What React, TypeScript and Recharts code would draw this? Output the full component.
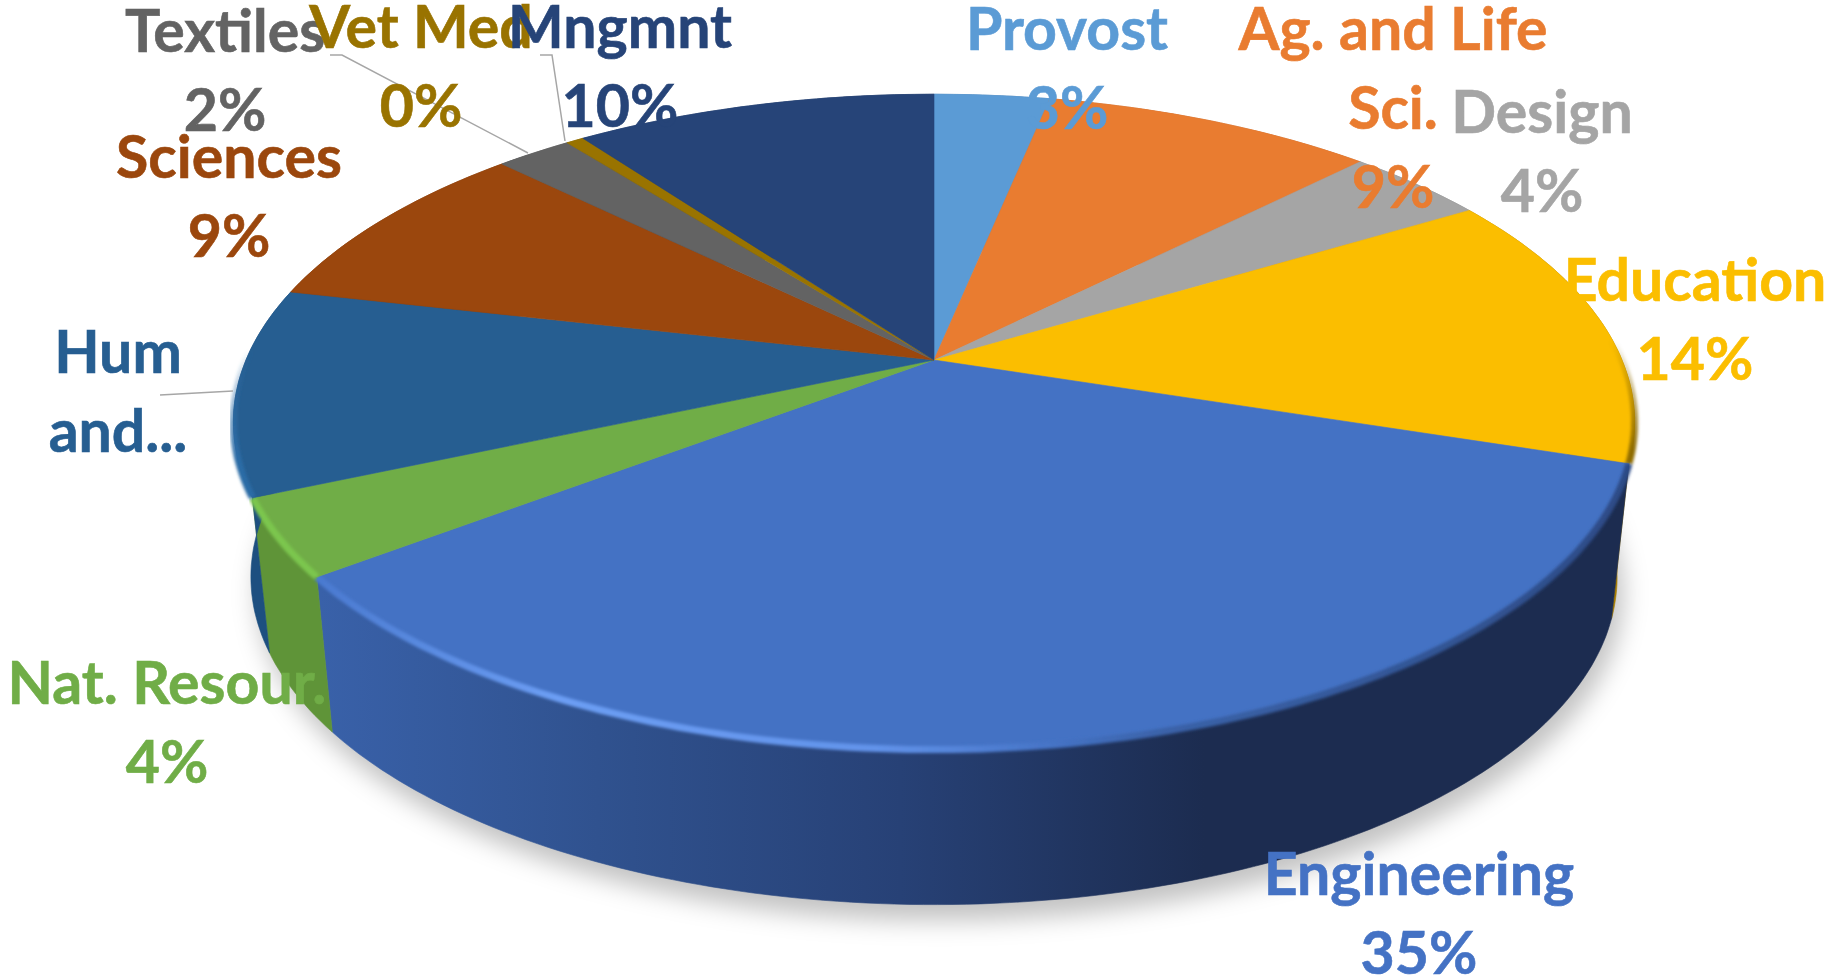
import React from 'react'
import { PieChart, Pie } from 'recharts'

const categories = ['Provost', 'Ag. and Life\nSci.', 'Design', 'Education', 'Engineering', 'Nat. Resour.', 'Hum\nand...', 'Sciences', 'Textiles', 'Vet Med', 'Mngmnt']
const values = [3.2, 9.2, 3.9, 13.7, 34.6, 3.8, 10.2, 8.8, 2.1, 0.49, 10.01]
const colors = ['#5B9BD5', '#E97C30', '#A5A5A5', '#FBBE00', '#4472C4', '#70AD47', '#265E91', '#9B470D', '#636363', '#997300', '#264478']
const wallColors = ['#4a80b0', '#c0662a', '#888888', '#a67c00', 'url(#engWall)', '#5f9438', '#1d4f80', '#7e3a0b', '#525252', '#7e5f00', '#1f3863']
const rimColors = ['none', 'none', 'none', 'url(#eduRim)', 'url(#engRim)', '#7cc64e', 'url(#humRim)', 'none', 'none', 'none', 'none']

// label centres and baselines, in page pixels
const labelX = [1067, 1393, 1542, 1695, 1419, 167, 118, 229, 225, 421, 620]
const labelY = [50, 50, 133, 301, 895, 704, 373, 178, 52, 48, 48]
const LINE_GAP = 79

const leaderLines: Record<string, string> = {
  Textiles: '330,55 342,55 528,153',
  'Vet Med': '540,55 552,55 565,141',
  'Hum\nand...': '160,395 233,391',
}

const CX = 934
const CY = 360
const R = 688
const S = 316
const K = 0.189
const BASE_R = 0.975
const BASE_CY = 515

const project = (angle: number, base = false) => {
  const a = (angle * Math.PI) / 180
  const u = Math.cos(a)
  const v = Math.sin(a)
  const d = 1 + K * v
  const x = (R * u) / d
  const y = (-S * v) / d
  return base ? [CX + x * BASE_R, BASE_CY + y] : [CX + x, CY + y]
}

const rimPoints = (start: number, end: number, base = false) => {
  const steps = Math.max(2, Math.ceil(Math.abs(end - start)))
  const pts: string[] = []
  for (let i = 0; i <= steps; i++) {
    const [x, y] = project(start + ((end - start) * i) / steps, base)
    pts.push(`${x.toFixed(1)} ${y.toFixed(1)}`)
  }
  return pts
}

const TopSlice = (props: any) => {
  const { startAngle, endAngle, fill } = props
  const rim = props.payload?.rim ?? props.rim
  const arc = rimPoints(startAngle, endAngle)
  return (
    <g>
      <path d={`M${CX} ${CY}L${arc.join('L')}Z`} fill={fill} stroke={fill} strokeWidth={0.6} />
      {rim !== 'none' && <path d={`M${arc.join('L')}`} fill="none" stroke={rim} strokeWidth={7} filter="url(#soft)" />}
    </g>
  )
}

const WallSlice = (props: any) => {
  const { startAngle, endAngle } = props
  const wall = props.payload?.wall ?? props.wall
  const top = rimPoints(startAngle, endAngle)
  const bottom = rimPoints(endAngle, startAngle, true)
  return <path d={`M${top.join('L')}L${bottom.join('L')}Z`} fill={wall} stroke={wall} strokeWidth={0.6} />
}

const FONT = 'Lato, "Open Sans", sans-serif'

const renderLabel = (props: any) => {
  const { index, percent, fill } = props
  const name = categories[index]
  const lines = name.split('\n')
  const truncated = name.endsWith('...')
  if (!truncated) lines.push(`${Math.round(percent * 100)}%`)
  return (
    <g key={name}>
      {leaderLines[name] && <polyline points={leaderLines[name]} fill="none" stroke="#a6a6a6" strokeWidth={1.5} />}
      {lines.map((line: string, i: number) => (
        <text key={line} x={labelX[index]} y={labelY[index] + i * LINE_GAP} textAnchor="middle" fontFamily={FONT} fontWeight={700} fontSize={59} fill={fill} stroke={fill} strokeWidth={0.6}>
          {line}
        </text>
      ))}
    </g>
  )
}

const data = categories.map((name, i) => ({ name, value: values[i], fill: colors[i], wall: wallColors[i], rim: rimColors[i] }))

const shadowPath = `M${rimPoints(0, 360, true)
  .map((p) => {
    const [x, y] = p.split(' ').map(Number)
    return `${x + 6} ${y + 16}`
  })
  .join('L')}Z`

export default function App() {
  return (
    <div style={{ position: 'absolute', left: 0, top: 0, width: 1839, height: 979, background: '#fff', overflow: 'hidden' }}>
      <PieChart width={1839} height={979} margin={{ top: 0, right: 0, bottom: 0, left: 0 }}>
        <defs>
          <linearGradient id="engWall" gradientUnits="userSpaceOnUse" x1={320} y1={0} x2={1640} y2={0}>
            <stop offset="0" stopColor="#3961a9" />
            <stop offset="0.21" stopColor="#30528f" />
            <stop offset="0.44" stopColor="#274176" />
            <stop offset="0.67" stopColor="#1c2c50" />
            <stop offset="1" stopColor="#1c2c50" />
          </linearGradient>
          <linearGradient id="engRim" gradientUnits="userSpaceOnUse" x1={320} y1={0} x2={1640} y2={0}>
            <stop offset="0" stopColor="#4a7ad0" />
            <stop offset="0.18" stopColor="#6c9ef4" />
            <stop offset="0.42" stopColor="#6293ea" />
            <stop offset="0.56" stopColor="#4472C4" />
            <stop offset="0.64" stopColor="#3a62a8" />
            <stop offset="1" stopColor="#2c4a85" />
          </linearGradient>
          <linearGradient id="eduRim" gradientUnits="userSpaceOnUse" x1={0} y1={340} x2={0} y2={450}>
            <stop offset="0" stopColor="#8f6c00" stopOpacity={0} />
            <stop offset="1" stopColor="#8f6c00" />
          </linearGradient>
          <linearGradient id="humRim" gradientUnits="userSpaceOnUse" x1={0} y1={350} x2={0} y2={460}>
            <stop offset="0" stopColor="#2c6ca6" stopOpacity={0} />
            <stop offset="1" stopColor="#2c6ca6" />
          </linearGradient>
          <filter id="soft" x="-5%" y="-5%" width="110%" height="110%">
            <feGaussianBlur stdDeviation="1.8" />
          </filter>
          <filter id="shadow" x="-10%" y="-10%" width="120%" height="120%">
            <feGaussianBlur stdDeviation="12" />
          </filter>
        </defs>
        <path d={shadowPath} fill="#000" fillOpacity={0.24} filter="url(#shadow)" />
        <Pie
          data={data}
          dataKey="value"
          nameKey="name"
          cx={CX}
          cy={CY}
          outerRadius={R}
          startAngle={90}
          endAngle={-270}
          isAnimationActive={false}
          stroke="none"
          shape={WallSlice}
          inactiveShape={WallSlice}
          label={false}
          labelLine={false}
        />
        <Pie
          data={data}
          dataKey="value"
          nameKey="name"
          cx={CX}
          cy={CY}
          outerRadius={R}
          startAngle={90}
          endAngle={-270}
          isAnimationActive={false}
          stroke="none"
          shape={TopSlice}
          inactiveShape={TopSlice}
          label={renderLabel}
          labelLine={false}
        />
      </PieChart>
    </div>
  )
}
